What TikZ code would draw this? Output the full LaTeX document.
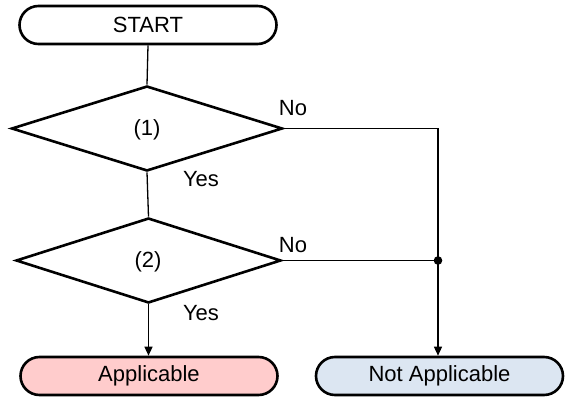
\documentclass[tikz,border=0pt]{standalone}
\usepackage{fontspec}
\setmainfont{Liberation Sans}
\usetikzlibrary{shapes.geometric,arrows.meta}
\definecolor{pinkfill}{RGB}{255,204,204}
\definecolor{bluefill}{RGB}{220,230,242}
\tikzset{
  pill/.style={draw=black, line width=2.6pt, rectangle, rounded corners=19pt,
    minimum height=38pt, inner sep=0pt, font=\fontsize{22}{24}\selectfont},
  decision/.style={draw=black, line width=2.6pt, diamond, inner sep=0pt,
    font=\fontsize{22}{24}\selectfont},
  conn/.style={draw=black, line width=1.3pt},
  arr/.style={conn, -{Triangle[length=9pt,width=8pt]}},
  lbl/.style={font=\fontsize{22}{24}\selectfont, inner sep=0pt},
}
\begin{document}
\begin{tikzpicture}[x=1pt,y=-1pt]
\useasboundingbox (0,0) rectangle (566,401);
\node[pill, minimum width=257pt] (start) at (148,25) {START};
\node[decision, minimum width=271pt, minimum height=85pt] (d1) at (147,128.5) {};
\node[lbl] (t1) at (147,130) {(1)};
\node[decision, minimum width=265pt, minimum height=85pt] (d2) at (148.5,260.5) {};
\node[lbl] (t2) at (148,262) {(2)};
\node[pill, fill=pinkfill, minimum width=257pt] (app) at (149,376) {Applicable};
\node[pill, fill=bluefill, minimum width=247pt] (napp) at (439.5,376) {Not Applicable};
\coordinate (c1) at (438,128.5);
\coordinate (c2) at (438,260.5);
\draw[conn] (start.south) -- (d1.north);
\draw[conn] (d1.south) -- (d2.north);
\draw[arr] (d2.south) -- (d2.south |- app.north);
\draw[conn] (d1.east) -- (c1);
\draw[arr] (c1) -- (c1 |- napp.north);
\draw[conn] (d2.east) -- (c2);
\fill (c2) circle (4.3pt);
\node[lbl] (no1) at (293,108) {No};
\node[lbl] (no2) at (293,245) {No};
\node[lbl] (yes1) at (201,179) {Yes};
\node[lbl] (yes2) at (201,313) {Yes};
\end{tikzpicture}
\end{document}
